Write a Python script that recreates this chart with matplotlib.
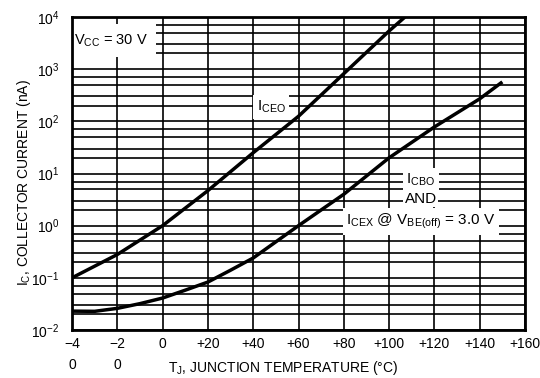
import numpy as np
import matplotlib
matplotlib.use("Agg")
import matplotlib.pyplot as plt
from matplotlib import font_manager

# font: narrow helvetica look if available
names = set(f.name for f in font_manager.fontManager.ttflist)
fam = 'Liberation Sans Narrow' if 'Liberation Sans Narrow' in names else 'Liberation Sans'
plt.rcParams['font.family'] = [fam, 'DejaVu Sans']
plt.rcParams['mathtext.fontset'] = 'custom'
plt.rcParams['mathtext.rm'] = fam
plt.rcParams['mathtext.it'] = fam
plt.rcParams['mathtext.bf'] = fam

# data (temperature in C, current in nA)
t_ceo = [-40, -20, 0, 20, 40, 60, 80, 100, 107]
i_ceo = [0.10, 0.28, 1.0, 4.7, 25, 125, 820, 5400, 10000]

t_cbo = [-40, -30, -20, -10, 0, 10, 20, 30, 40, 60, 80, 100, 120, 140, 150]
i_cbo = [0.023, 0.0228, 0.026, 0.032, 0.041, 0.058, 0.083, 0.14, 0.24,
         1.0, 4.0, 20, 78, 270, 570]

x_ticks = [-40, -20, 0, 20, 40, 60, 80, 100, 120, 140, 160]
x_labels = ['\u22124\n0', '\u22122\n0', '0', '+20', '+40', '+60', '+80',
            '+100', '+120', '+140', '+160']
y_ticks = [1e-2, 1e-1, 1e0, 1e1, 1e2, 1e3, 1e4]
y_labels = ['10$^{-2}$', '10$^{-1}$', '10$^{0}$', '10$^{1}$', '10$^{2}$',
            '10$^{3}$', '10$^{4}$']

fig = plt.figure(figsize=(5.4, 3.78), dpi=100)
ax = fig.add_axes([72/540, 1-330/378, 453/540, 313/378])

ax.set_yscale('log')
ax.set_xlim(-40, 160)
ax.set_ylim(1e-2, 1e4)

# grid: verticals every 20 C, horizontals at 1,2,3,5,7 per decade
for x in x_ticks:
    ax.axvline(x, color='black', lw=1.2, zorder=1)
for dec in range(-2, 4):
    for m in [1, 2, 3, 5, 7]:
        ax.axhline(m * 10.0**dec, color='black', lw=1.2, zorder=1)

ax.plot(t_ceo, i_ceo, color='black', lw=2.5, zorder=6, solid_capstyle='butt')
ax.plot(t_cbo, i_cbo, color='black', lw=2.5, zorder=6, solid_capstyle='butt')

ax.set_xticks(x_ticks)
ax.set_xticklabels(x_labels)
ax.set_yticks(y_ticks)
ax.set_yticklabels(y_labels)
ax.minorticks_off()
ax.tick_params(axis='both', length=0, labelsize=10)
ax.tick_params(axis='x', pad=5)
ax.tick_params(axis='y', pad=9)
for lbl in ax.get_xticklabels():
    lbl.set_linespacing(1.6)

for s in ax.spines.values():
    s.set_linewidth(2)
    s.set_zorder(7)

box = dict(facecolor='white', edgecolor='none', pad=2.5)
ax.text(-23, 3500, '$\\mathregular{V_{CC}}$ = 30 V', fontsize=10.5,
        ha='center', va='center', bbox=dict(facecolor='white', edgecolor='none', pad=6), zorder=5)
ax.text(48, 190, '$\\mathregular{I_{CEO}}$', fontsize=11, ha='center', va='center',
        bbox=box, zorder=5)
ax.text(114, 7.6, '$\\mathregular{I_{CBO}}$', fontsize=11, ha='center', va='center',
        bbox=box, zorder=5)
ax.text(114, 3.3, 'AND', fontsize=11, ha='center', va='center',
        bbox=dict(facecolor='white', edgecolor='none', pad=1), zorder=5)
ax.text(114, 1.2, '$\\mathregular{I_{CEX}}$ @ $\\mathregular{V_{BE(off)}}$ = 3.0 V',
        fontsize=11, ha='center', va='center', bbox=box, zorder=5)

fig.text(283/540, 1-368/378, '$\\mathregular{T_J}$, JUNCTION TEMPERATURE (\u00b0C)',
         fontsize=10, ha='center', va='center')
fig.text(24/540, 1-183/378, '$\\mathregular{I_C}$, COLLECTOR CURRENT (nA)',
         fontsize=10, ha='center', va='center', rotation=90)

fig.savefig('out.png', dpi=100, facecolor='white')
